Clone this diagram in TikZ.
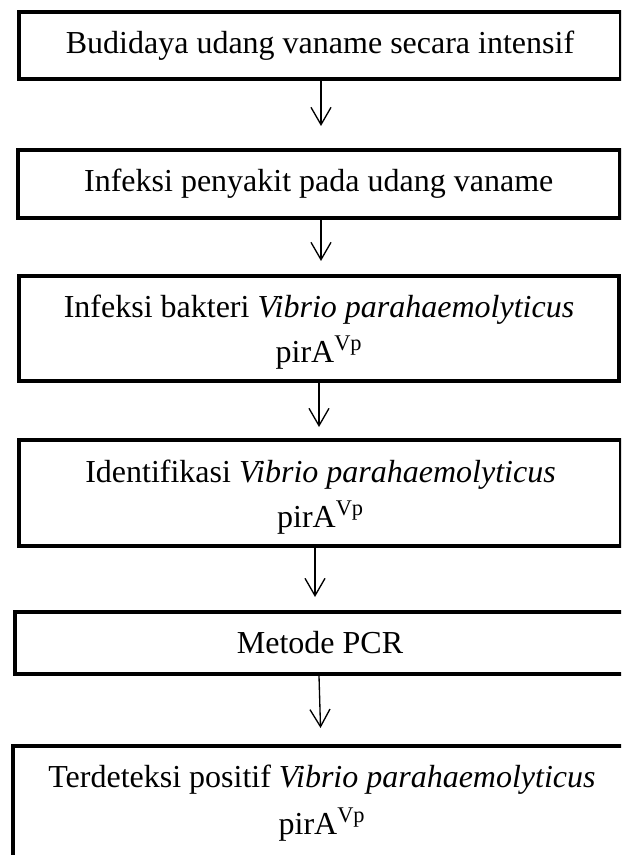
\documentclass[tikz,border=0pt]{standalone}
\usepackage{fontspec}
\setmainfont{Liberation Serif}
\usetikzlibrary{arrows.meta}
\begin{document}
\begin{tikzpicture}[x=0.75pt,y=-0.75pt,
  box/.style={draw=black, line width=3pt, rectangle, inner sep=0pt, align=center,
    font=\fontsize{24pt}{33.75pt}\selectfont},
  txt/.style={inner sep=0pt, align=center, font=\fontsize{24pt}{33.75pt}\selectfont},
  arr/.style={line width=1pt, -{Straight Barb[length=13pt,width=15pt,line width=1pt]}}]
\clip (0,0) rectangle (621,855);
\useasboundingbox (0,0) rectangle (621,855);
\node[box, minimum width=451.5pt, minimum height=49.875pt] (b1) at (320,45.75)
  {Budidaya udang vaname secara intensif};
\node[box, minimum width=451.125pt, minimum height=51pt] (b2) at (318.75,184)
  {Infeksi penyakit pada udang vaname};
\node[box, minimum width=449.625pt, minimum height=78.75pt] (b3) at (318.75,328.5) {};
\node[txt] (t3) at (319,332.5)
  {Infeksi bakteri \textit{Vibrio parahaemolyticus}\\pirA\textsuperscript{Vp}};
\node[box, minimum width=451.125pt, minimum height=79.5pt] (b4) at (319.75,493) {};
\node[txt] (t4) at (320.5,497.5)
  {Identifikasi \textit{Vibrio parahaemolyticus}\\pirA\textsuperscript{Vp}};
\node[box, minimum width=457.5pt, minimum height=46.5pt] (b5) at (320,643)
  {Metode PCR};
\node[box, minimum width=463.5pt, minimum height=90pt] (b6) at (322,806) {};
\node[txt, font=\fontsize{24pt}{35.25pt}\selectfont] (t6) at (322,803.5)
  {Terdeteksi positif \textit{Vibrio parahaemolyticus}\\pirA\textsuperscript{Vp}};
\draw[arr, shorten >=16.5pt] ([xshift=0.75pt]b1.south) -- ([xshift=1.6875pt]b2.north);
\draw[arr, shorten >=9.75pt] ([xshift=1.6875pt]b2.south) -- ([xshift=1.6875pt]b3.north);
\draw[arr, shorten >=8.25pt] ([xshift=0.1875pt]b3.south) -- ([xshift=-0.5625pt]b4.north);
\draw[arr, shorten >=9.75pt] ([xshift=-3.5625pt]b4.south) -- ([xshift=-3.75pt]b5.north);
\draw[arr, shorten >=12pt] ([xshift=-0.75pt]b5.south) -- ([xshift=-0.75pt]b6.north);
\end{tikzpicture}
\end{document}
